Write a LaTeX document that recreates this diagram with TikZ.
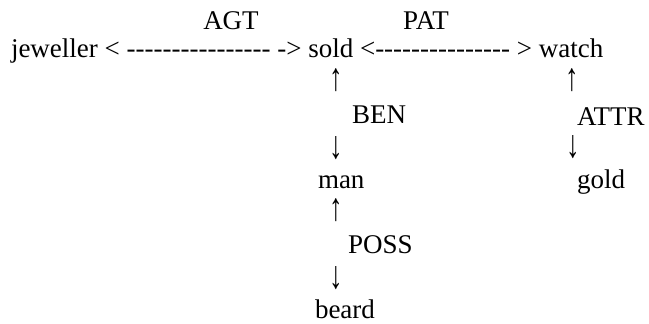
\documentclass[tikz,border=0pt]{standalone}
\usepackage{fontspec}
\setmainfont{Liberation Serif}
\newcommand{\hyphens}[1]{\foreach \k in {1,...,#1}{-\kern0pt}}
\newcommand{\uparr}{\scalebox{1}[1.45]{↑}}
\newcommand{\dnarr}{\scalebox{1}[1.45]{↓}}
\tikzset{
  lbl/.style={anchor=base west, inner sep=0pt, outer sep=0pt, font=\fontsize{27}{32}\selectfont},
  clbl/.style={anchor=base, inner sep=0pt, outer sep=0pt, font=\fontsize{27}{32}\selectfont},
  arr/.style={anchor=center, inner sep=0pt, outer sep=0pt, font=\fontsize{27}{32}\selectfont},
}
\begin{document}
\begin{tikzpicture}[x=1pt,y=-1pt]
\useasboundingbox (0,0) rectangle (649,324);
% top labels
\node[clbl] (agt) at (231,30) {AGT};
\node[clbl] (pat) at (426,30) {PAT};
% row 1
\node[lbl] (row) at (11,57) {jeweller < \hyphens{16} -> sold <\hyphens{15} > watch};
% sold column
\node[arr] (up1) at (336,80) {\uparr};
\node[lbl] (ben) at (352,123) {BEN};
\node[arr] (dn1) at (336,148) {\dnarr};
\node[lbl] (man) at (318,188) {man};
\node[arr] (up2) at (336,210) {\uparr};
\node[lbl] (poss) at (348,253) {POSS};
\node[arr] (dn2) at (336,278) {\dnarr};
\node[lbl] (beard) at (315,318) {beard};
% watch column
\node[arr] (up3) at (572,80) {\uparr};
\node[lbl] (attr) at (577,125) {ATTR};
\node[arr] (dn3) at (573,147) {\dnarr};
\node[lbl] (gold) at (577,188) {gold};
\end{tikzpicture}
\end{document}
